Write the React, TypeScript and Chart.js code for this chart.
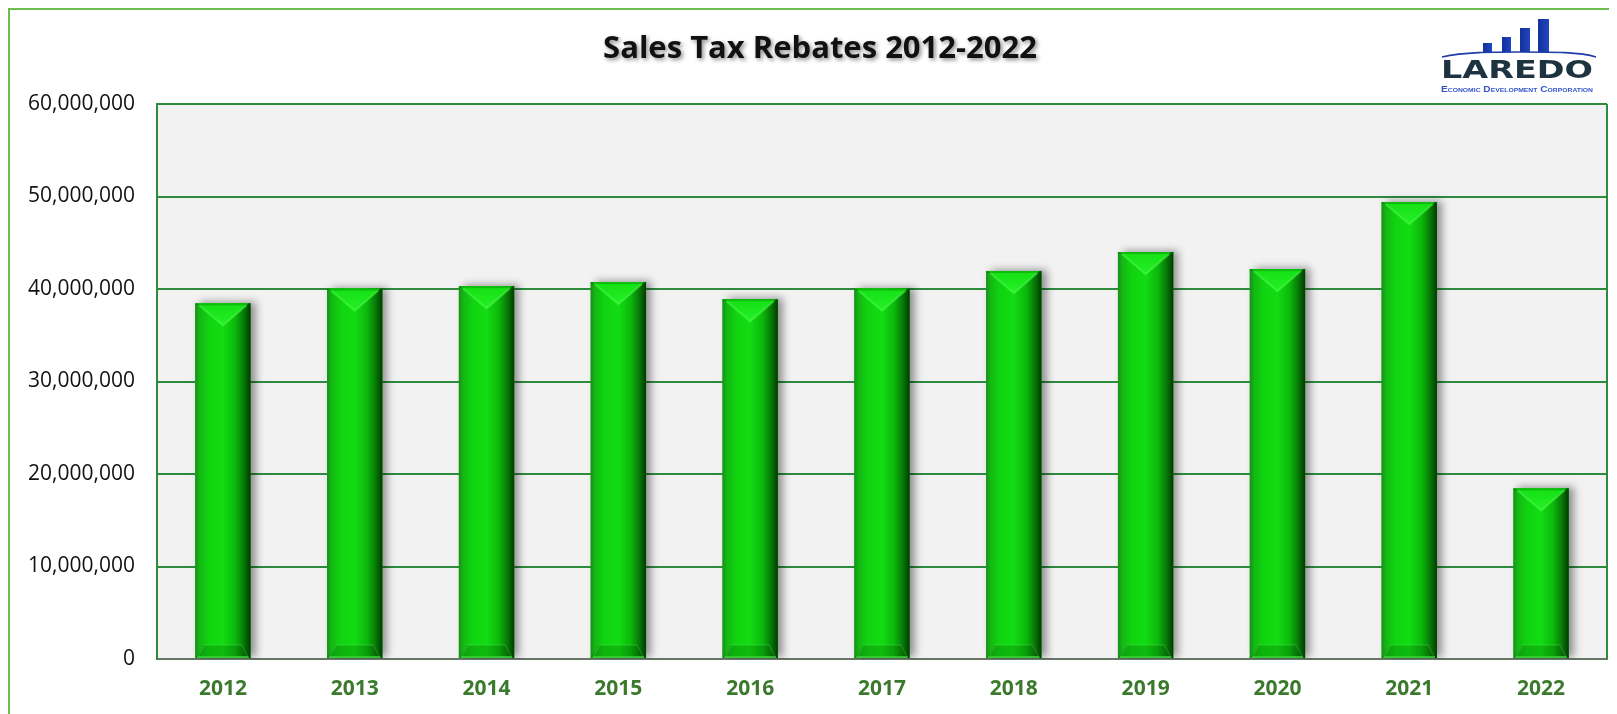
import React, { useEffect, useRef } from "react";
import { Chart, registerables } from "chart.js";

Chart.register(...registerables);

const titleText = "Sales Tax Rebates 2012-2022";
const categories = ["2012", "2013", "2014", "2015", "2016", "2017", "2018", "2019", "2020", "2021", "2022"];
const rebates = [38450000, 40050000, 40300000, 40750000, 38900000, 40050000, 41950000, 44000000, 42150000, 49400000, 18450000];
const yMin = 0;
const yMax = 60000000;
const yStep = 10000000;

const GRID = "#2e8b3e";

const framePlugin = {
  id: "frameAndBars",
  beforeDraw(chart: any) {
    const { ctx, chartArea: a } = chart;
    ctx.save();
    ctx.fillStyle = "#f2f2f2";
    ctx.fillRect(a.left, a.top, a.right - a.left, a.bottom - a.top);
    ctx.restore();
    ctx.save();
    ctx.font = "bold 31px 'Open Sans'";
    ctx.textAlign = "center";
    ctx.textBaseline = "middle";
    ctx.fillStyle = "#111";
    ctx.shadowColor = "rgba(0,0,0,0.45)";
    ctx.shadowBlur = 4;
    ctx.shadowOffsetX = 2;
    ctx.shadowOffsetY = 2;
    ctx.fillText(titleText, 810, 39);
    ctx.restore();
  },
  beforeDatasetsDraw(chart: any) {
    const { ctx, chartArea: a } = chart;
    ctx.save();
    ctx.strokeStyle = GRID;
    ctx.lineWidth = 2;
    ctx.beginPath();
    ctx.moveTo(a.right, a.top);
    ctx.lineTo(a.right, a.bottom);
    ctx.stroke();
    ctx.restore();
    ctx.save();
    ctx.shadowColor = "rgba(0,0,0,0.4)";
    ctx.shadowBlur = 8;
    ctx.shadowOffsetX = 5;
    ctx.shadowOffsetY = -1;
  },
  afterDatasetsDraw(chart: any) {
    const ctx = chart.ctx;
    ctx.restore();
    const meta = chart.getDatasetMeta(0);
    meta.data.forEach((el: any) => {
      const { x, y, base, width } = el.getProps(["x", "y", "base", "width"], true);
      const l = x - width / 2;
      const r = x + width / 2;
      const t = Math.min(y, base);
      const b = Math.max(y, base);
      const h = b - t;
      ctx.save();
      const g = ctx.createLinearGradient(l, 0, r, 0);
      g.addColorStop(0, "#1a8f1a");
      g.addColorStop(0.08, "#14b814");
      g.addColorStop(0.25, "#10d410");
      g.addColorStop(0.5, "#12dc12");
      g.addColorStop(0.72, "#0cb80c");
      g.addColorStop(0.88, "#067806");
      g.addColorStop(1, "#023a02");
      ctx.fillStyle = g;
      ctx.fillRect(l, t, width, h);
      const depth = Math.min(width * 0.4, h / 3);
      const cx = x;
      const tg = ctx.createLinearGradient(0, t, 0, t + depth);
      tg.addColorStop(0, "#14e014");
      tg.addColorStop(1, "#26f026");
      ctx.fillStyle = tg;
      ctx.beginPath();
      ctx.moveTo(l + 2, t);
      ctx.lineTo(r - 2, t);
      ctx.lineTo(cx, t + depth);
      ctx.closePath();
      ctx.fill();
      ctx.strokeStyle = "rgba(90,255,90,0.45)";
      ctx.lineWidth = 2;
      ctx.beginPath();
      ctx.moveTo(l + 4, t + 2);
      ctx.lineTo(cx, t + depth);
      ctx.lineTo(r - 4, t + 2);
      ctx.stroke();
      ctx.fillStyle = "rgba(0,120,0,0.35)";
      ctx.fillRect(l, t, width, 2);
      const bd = Math.min(13, h / 4);
      ctx.fillStyle = "rgba(0,70,0,0.22)";
      ctx.beginPath();
      ctx.moveTo(l, b);
      ctx.lineTo(l + 8, b - bd);
      ctx.lineTo(r - 8, b - bd);
      ctx.lineTo(r, b);
      ctx.closePath();
      ctx.fill();
      ctx.strokeStyle = "rgba(120,255,120,0.2)";
      ctx.lineWidth = 1.5;
      ctx.beginPath();
      ctx.moveTo(l + 3, b - 2);
      ctx.lineTo(l + 9, b - bd);
      ctx.lineTo(r - 9, b - bd);
      ctx.lineTo(r - 3, b - 2);
      ctx.stroke();
      ctx.fillStyle = "rgba(60,210,60,0.8)";
      ctx.fillRect(l + 2, b - 2, width - 4, 2);
      ctx.restore();
    });
  },
};

function Logo() {
  return (
    <svg
      width={160}
      height={80}
      style={{ position: "absolute", left: 1430, top: 8 }}
      viewBox="0 0 160 80"
    >
      <defs>
        <linearGradient id="lb" x1="0" y1="0" x2="1" y2="0">
          <stop offset="0" stopColor="#13309a" />
          <stop offset="1" stopColor="#1f46c0" />
        </linearGradient>
      </defs>
      <rect x={43} y={25} width={9} height={9} fill="url(#lb)" />
      <rect x={62} y={19} width={9} height={15} fill="url(#lb)" />
      <rect x={80} y={10} width={10} height={24} fill="url(#lb)" />
      <rect x={98} y={1} width={11} height={33} fill="url(#lb)" />
      <path d="M2,39 C25,34 50,34 80,34 C115,34 140,34 156,39" stroke="#1e3ea8" strokeWidth={1.6} fill="none" />
      <text
        x={1}
        y={60}
        textLength={152}
        lengthAdjust="spacingAndGlyphs"
        fontFamily="'DejaVu Sans'"
        fontWeight="bold"
        fontSize={25}
        fill="#1d3340"
      >
        LAREDO
      </text>
      <text
        x={1}
        y={74}
        textLength={152}
        lengthAdjust="spacingAndGlyphs"
        fontFamily="'Liberation Sans Narrow', 'Liberation Sans'"
        fontWeight="bold"
        fontSize={9}
        fill="#3355cc"
        style={{ fontVariant: "small-caps" }}
      >
        Economic Development Corporation
      </text>
    </svg>
  );
}

export default function App() {
  const ref = useRef<HTMLCanvasElement>(null);
  useEffect(() => {
    document.documentElement.style.overflow = "hidden";
    document.body.style.overflow = "hidden";
    const chart = new Chart(ref.current as HTMLCanvasElement, {
      type: "bar",
      data: {
        labels: categories,
        datasets: [
          {
            data: rebates,
            backgroundColor: "#12c012",
            borderWidth: 0,
            categoryPercentage: 1,
            barPercentage: 0.42,
          },
        ],
      },
      options: {
        animation: false,
        responsive: false,
        events: [],
        layout: { padding: { top: 94, right: 10, left: 0, bottom: 0 } },
        plugins: { legend: { display: false }, tooltip: { enabled: false }, title: { display: false } },
        scales: {
          x: {
            grid: { display: false, drawTicks: false },
            border: { display: true, color: "#667766", width: 2 },
            ticks: {
              color: "#3b7a2c",
              font: { family: "'Open Sans'", size: 21, weight: "bold" },
              padding: 17,
            },
            afterFit(s: any) {
              s.height = 55;
            },
          },
          y: {
            min: yMin,
            max: yMax,
            ticks: {
              stepSize: yStep,
              callback: (v: any) => Number(v).toLocaleString("en-US"),
              color: "#111",
              font: { family: "'Open Sans'", size: 21 },
              padding: 22,
            },
            grid: { color: GRID, lineWidth: 2, drawTicks: false },
            border: { color: GRID, width: 2 },
            afterFit(s: any) {
              s.width = 147;
            },
          },
        },
      } as any,
      plugins: [framePlugin],
    });
    return () => chart.destroy();
  }, []);
  return (
    <div
      style={{
        position: "relative",
        width: 1609,
        height: 706,
        borderLeft: "2px solid #6cbf4f",
        borderTop: "2px solid #6cbf4f",
        boxSizing: "border-box",
        background: "#fff",
      }}
    >
      <canvas ref={ref} width={1607} height={704} style={{ display: "block" }} />
      <Logo />
    </div>
  );
}
